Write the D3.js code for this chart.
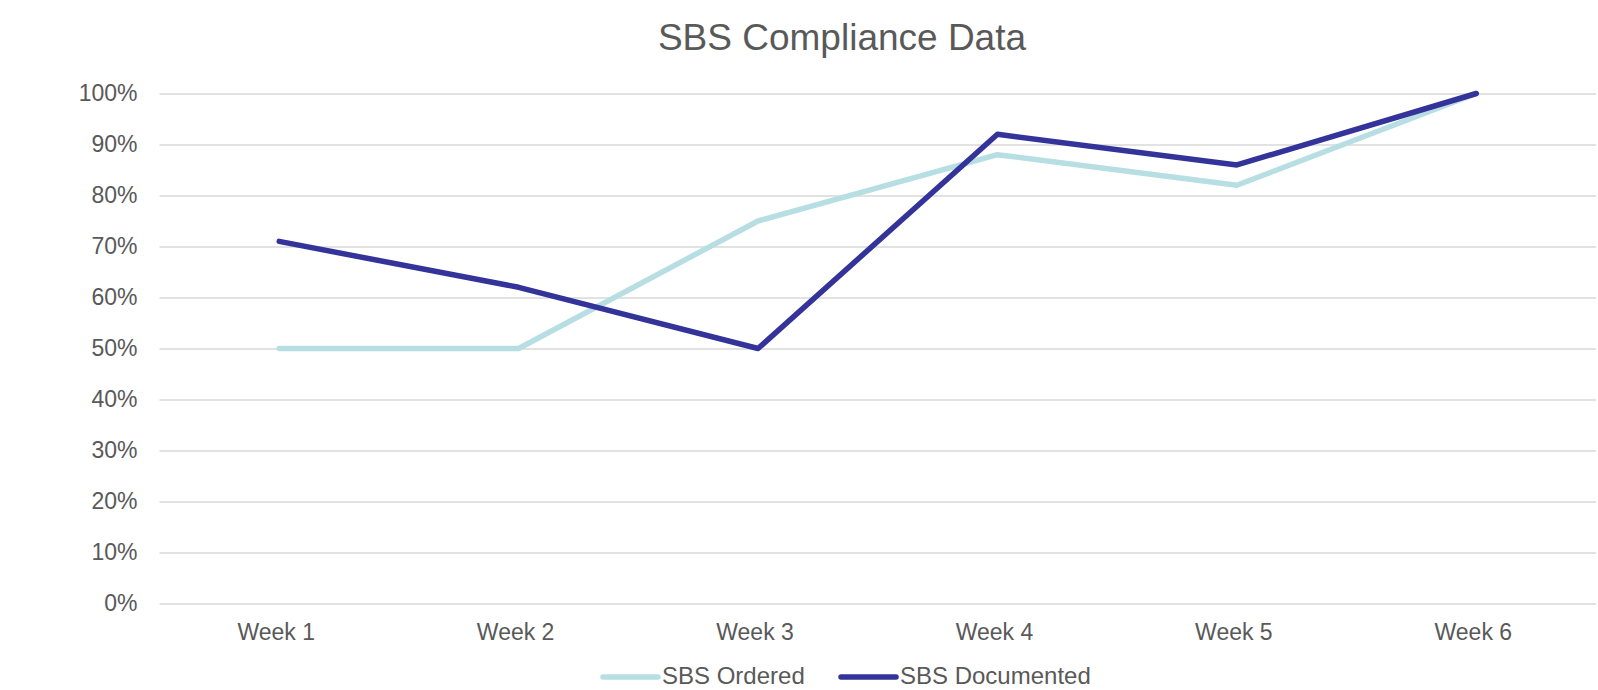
<!DOCTYPE html>
<html>
<head>
<meta charset="utf-8">
<script src="https://cdn.jsdelivr.net/npm/d3@7"></script>
<style>
  html, body { margin: 0; padding: 0; background: #fff; }
  svg { display: block; font-family: "Liberation Sans", Arial, sans-serif; }
</style>
</head>
<body>
<div id="chart"></div>
<script>
// Data
const weeks = ["Week 1", "Week 2", "Week 3", "Week 4", "Week 5", "Week 6"];
const sbsOrdered = [50, 50, 75, 88, 82, 100];
const sbsDocumented = [71, 62, 50, 92, 86, 100];
const yTicks = [0, 10, 20, 30, 40, 50, 60, 70, 80, 90, 100];

const W = 1598, H = 690;
const margin = { top: 93.5, right: 2, bottom: 86.5, left: 159.5 };
const width = W - margin.left - margin.right;
const height = H - margin.top - margin.bottom;
const textColor = "#595959";
const colors = { ordered: "#b7dfe3", documented: "#33339a" };

const svg = d3.select("#chart").append("svg")
    .attr("width", W)
    .attr("height", H);

// Title
svg.append("text")
    .attr("x", 842)
    .attr("y", 50)
    .attr("text-anchor", "middle")
    .style("font-size", "37px")
    .style("fill", textColor)
    .text("SBS Compliance Data");

const g = svg.append("g").attr("transform", `translate(${margin.left},${margin.top})`);

// Scales
const x = d3.scaleBand().domain(weeks).range([0, width]);
const y = d3.scaleLinear().domain([0, 100]).range([height, 0]);

// Gridlines + y labels
const yAxis = g.append("g")
    .call(d3.axisLeft(y).tickValues(yTicks).tickSize(-width).tickFormat(d => d + "%").tickPadding(22));
yAxis.select(".domain").remove();
yAxis.selectAll(".tick line").attr("stroke", "#d9d9d9").attr("stroke-width", 1.5);
yAxis.selectAll(".tick text")
    .style("font-size", "23px")
    .style("fill", textColor)
    .style("font-family", "Liberation Sans, Arial, sans-serif");

// X labels
const xAxis = g.append("g")
    .attr("transform", `translate(0,${height})`)
    .call(d3.axisBottom(x).tickSize(0).tickPadding(20));
xAxis.select(".domain").remove();
xAxis.selectAll(".tick text")
    .attr("dx", "-3")
    .style("font-size", "23px")
    .style("fill", textColor)
    .style("font-family", "Liberation Sans, Arial, sans-serif");

// Lines
const series = [
    { key: "ordered", name: "SBS Ordered", values: sbsOrdered },
    { key: "documented", name: "SBS Documented", values: sbsDocumented }
];

const line = d3.line()
    .x((d, i) => x(weeks[i]) + x.bandwidth() / 2)
    .y(d => y(d));

g.selectAll(".series")
    .data(series)
    .enter().append("path")
    .attr("fill", "none")
    .attr("stroke", d => colors[d.key])
    .attr("stroke-width", 5.5)
    .attr("stroke-linecap", "round")
    .attr("stroke-linejoin", "round")
    .attr("d", d => line(d.values));

// Legend
const legendX = [603, 841];
const legend = svg.selectAll(".legend")
    .data(series)
    .enter().append("g")
    .attr("transform", (d, i) => `translate(${legendX[i]}, 677)`);

legend.append("line")
    .attr("x1", 0).attr("x2", 55)
    .attr("stroke", d => colors[d.key])
    .attr("stroke-width", 5.5)
    .attr("stroke-linecap", "round");

legend.append("text")
    .attr("x", 59)
    .attr("y", 7)
    .style("font-size", "24px")
    .style("fill", textColor)
    .text(d => d.name);
</script>
</body>
</html>
